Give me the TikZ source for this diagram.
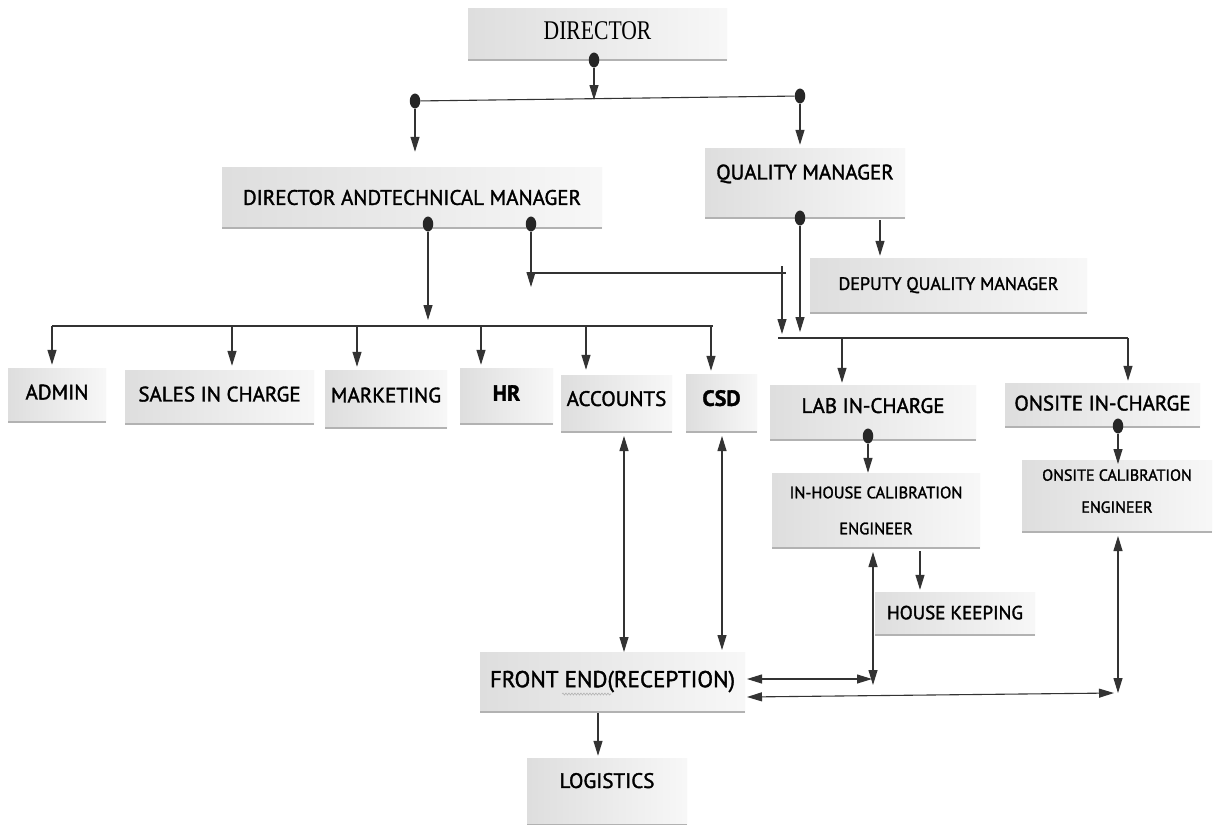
\documentclass[tikz,border=0pt]{standalone}
\usepackage{fontspec}
\newfontfamily\cfont[FakeBold=1.6]{PT Sans}
\newfontfamily\dfont{Liberation Serif}
\usetikzlibrary{arrows.meta,decorations.pathmorphing,calc,shapes.geometric}
\tikzset{
  box/.style={rectangle, inner sep=2pt, left color=gray!26, right color=gray!6, draw=none,
    text=black, font=\cfont\fontsize{21}{24}\selectfont, align=center,
    path picture={\draw[gray!60,line width=2.5pt] (path picture bounding box.south west) -- (path picture bounding box.south east);}},
  dot/.style={ellipse, fill=black!85, inner sep=0pt, minimum width=10.5pt, minimum height=15pt},
  ln/.style={draw=black!80, line width=1.1pt},
  arr/.style={ln, -{Triangle[length=15pt,width=9pt]}},
  dbl/.style={ln, {Triangle[length=15pt,width=9pt]}-{Triangle[length=15pt,width=9pt]}}
}
\begin{document}
\begin{tikzpicture}[x=1pt,y=-1pt]
\path[use as bounding box, fill=white] (0,0) rectangle (1219,825);

% boxes
\node[box, minimum width=259, minimum height=52, font=\dfont\fontsize{27}{29}\selectfont, text depth=6pt] (dir) at (597.5,34) {\scalebox{0.8}[1]{DIRECTOR}};
\node[box, minimum width=380, minimum height=61] (dtm) at (412,197.5) {DIRECTOR ANDTECHNICAL MANAGER};
\node[box, minimum width=200, minimum height=70, text depth=22pt] (qm) at (805,183) {QUALITY MANAGER};
\node[box, minimum width=277, minimum height=55, font=\cfont\fontsize{18}{20}\selectfont, text depth=4pt] (dqm) at (948.5,285.5) {DEPUTY QUALITY MANAGER};

\node[box, minimum width=98, minimum height=54, text depth=6pt] (admin) at (57,395) {ADMIN};
\node[box, minimum width=189, minimum height=54, text depth=6pt] (sales) at (219.5,397) {SALES IN CHARGE};
\node[box, minimum width=122, minimum height=58, text depth=8pt] (mkt) at (386,399) {MARKETING};
\node[box, minimum width=93, minimum height=56, font=\cfont\bfseries\fontsize{22}{24}\selectfont, text depth=6pt] (hr) at (506.5,396) {HR};
\node[box, minimum width=111, minimum height=57, text depth=10pt] (acc) at (616.5,403.5) {ACCOUNTS};
\node[box, minimum width=71, minimum height=58, font=\cfont\bfseries\fontsize{22}{24}\selectfont, text depth=10pt] (csd) at (721.5,403) {CSD};

\node[box, minimum width=206, minimum height=55, text depth=14pt] (lab) at (873,412.5) {LAB IN-CHARGE};
\node[box, minimum width=195, minimum height=44, text depth=4pt] (onsite) at (1102.5,405) {ONSITE IN-CHARGE};
\node[box, minimum width=208, minimum height=75, font=\cfont\fontsize{16.5}{36}\selectfont] (ihce) at (876,510.5) {IN-HOUSE CALIBRATION\\ENGINEER};
\node[box, minimum width=190, minimum height=72, font=\cfont\fontsize{16}{32}\selectfont, text depth=10pt] (oce) at (1117,496) {ONSITE CALIBRATION\\ENGINEER};
\node[box, minimum width=160, minimum height=43, font=\cfont\fontsize{19}{22}\selectfont, text depth=2pt] (hk) at (955,613.5) {HOUSE KEEPING};
\node[box, minimum width=265, minimum height=60, font=\cfont\fontsize{23}{26}\selectfont, text depth=6pt] (fe) at (612.5,682) {FRONT END(RECEPTION)};
\node[box, minimum width=160, minimum height=67, text depth=22pt] (log) at (607,791.5) {LOGISTICS};

% director links
\node[dot] (dd) at (594,60) {};
\coordinate (jA) at (594,100);
\draw[arr] (dd) -- (jA);
\node[dot] (dl) at (415,101) {};
\node[dot] (dr) at (800,96) {};
\draw[ln] (dl) -- (dr);
\draw[arr, shorten >=15pt] (dl) -- (dl |- dtm.north);
\draw[arr, shorten >=3pt] (dr) -- (dr |- qm.north);

% DTM links
\node[dot] (t1) at (428,224) {};
\node[dot] (t2) at (531,224) {};
\coordinate (hL) at (52,326);
\coordinate (hR) at (713,326);
\draw[ln] (hL) -- (hR);
\draw[arr, shorten >=6pt] (t1) -- (t1 |- hL);
\coordinate (h2) at (232,326);
\coordinate (h3) at (357,326);
\coordinate (h4) at (481,326);
\coordinate (h5) at (586,326);
\coordinate (h6) at (711,326);
\draw[arr, shorten >=3pt] (hL) -- (hL |- admin.north);
\draw[arr, shorten >=4pt] (h2) -- (h2 |- sales.north);
\draw[arr, shorten >=3pt] (h3) -- (h3 |- mkt.north);
\draw[arr, shorten >=3pt] (h4) -- (h4 |- hr.north);
\draw[arr, shorten >=5pt] (h5) -- (h5 |- acc.north);
\draw[arr, shorten >=3pt] (h6) -- (h6 |- csd.north);

\coordinate (k0) at (531,287);
\coordinate (k1) at (531,273);
\coordinate (k2) at (786,273);
\coordinate (k3) at (782,266);
\coordinate (k4) at (782,334);
\draw[arr] (t2) -- (k0);
\draw[ln] (k1) -- (k2);
\draw[arr] (k3) -- (k4);

% QM links
\node[dot] (q1) at (800,218) {};
\coordinate (m0) at (800,332);
\draw[arr] (q1) -- (m0);
\coordinate (q2) at (880,220);
\draw[arr, shorten >=2pt] (q2) -- (q2 |- dqm.north);
\coordinate (mL) at (778,338);
\coordinate (mR) at (1128,338);
\draw[ln] (mL) -- (mR);
\coordinate (m1) at (842,338);
\draw[arr, shorten >=2pt] (m1) -- (m1 |- lab.north);
\draw[arr, shorten >=2pt] (mR) -- (mR |- onsite.north);

% lab / onsite
\node[dot] (l1) at (868,436) {};
\draw[arr] (l1) -- (l1 |- ihce.north);
\node[dot] (o1) at (1118,426) {};
\coordinate (o2) at (1118,464);
\draw[arr] (o1) -- (o2);
\coordinate (i1) at (920,551);
\draw[arr, shorten >=2pt] (i1) -- (i1 |- hk.north);

% front end links
\coordinate (v1t) at (873,552);
\coordinate (v1b) at (873,685);
\draw[dbl] (v1t) -- (v1b);
\coordinate (v2t) at (1118,536);
\coordinate (v2b) at (1118,693);
\draw[dbl] (v2t) -- (v2b);
\coordinate (f1) at (747,679);
\coordinate (f1e) at (872,679);
\draw[dbl] (f1) -- (f1e);
\coordinate (f2) at (747,697);
\coordinate (f2e) at (1114,693);
\draw[dbl] (f2) -- (f2e);
\coordinate (a1) at (624,436);
\coordinate (a2) at (624,652);
\draw[dbl] (a1) -- (a2);
\coordinate (c1) at (722,436);
\coordinate (c2) at (722,650);
\draw[dbl] (c1) -- (c2);
\coordinate (g) at (598,713);
\draw[arr, shorten >=2pt] (g) -- (g |- log.north);

% spell-check squiggle under END
\draw[gray!60, line width=0.6pt, decorate, decoration={snake, amplitude=1pt, segment length=3pt}] (562,694) -- (611,694);
\end{tikzpicture}
\end{document}
